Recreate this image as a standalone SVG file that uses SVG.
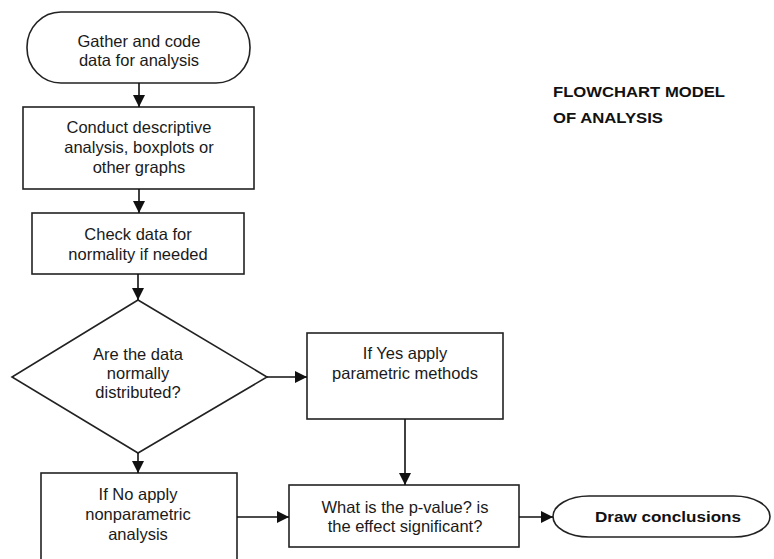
<svg xmlns="http://www.w3.org/2000/svg" width="774" height="559" viewBox="0 0 774 559">
<defs>
<marker id="ah" viewBox="0 0 12 12" markerWidth="12" markerHeight="12" refX="12" refY="6" orient="auto" markerUnits="userSpaceOnUse">
<path d="M0,0 L12,6 L0,12 Z" fill="#111"/>
</marker>
<style>
.shape{fill:#fff;stroke:#222;stroke-width:1.6}
.t{font-family:"Liberation Sans",Arial,sans-serif;font-size:16.5px;fill:#1a1a1a;text-anchor:middle}
.b{font-family:"Liberation Sans",Arial,sans-serif;font-weight:bold;font-size:15px;fill:#111}
.c{fill:none;stroke:#111;stroke-width:1.6;marker-end:url(#ah)}
</style>
</defs>
<rect width="774" height="559" fill="#fff"/>
<g id="title">
<text class="b" x="553" y="97" textLength="172" lengthAdjust="spacingAndGlyphs">FLOWCHART MODEL</text>
<text class="b" x="553" y="123" textLength="110" lengthAdjust="spacingAndGlyphs">OF ANALYSIS</text>
</g>
<g id="gather">
<rect class="shape" x="27" y="12" width="223" height="71" rx="34" ry="35"/>
<text class="t" x="139" y="47">Gather and code</text>
<text class="t" x="139" y="66">data for analysis</text>
</g>
<g id="descriptive">
<rect class="shape" x="23" y="107" width="231" height="82"/>
<text class="t" x="139" y="133">Conduct descriptive</text>
<text class="t" x="139" y="153">analysis, boxplots or</text>
<text class="t" x="139" y="173">other graphs</text>
</g>
<g id="normality">
<rect class="shape" x="32" y="213" width="212" height="61"/>
<text class="t" x="138" y="240">Check data for</text>
<text class="t" x="138" y="260">normality if needed</text>
</g>
<g id="decision">
<polygon class="shape" points="138,300 267,377 138,453 12,377"/>
<text class="t" x="138" y="360">Are the data</text>
<text class="t" x="138" y="379">normally</text>
<text class="t" x="138" y="398">distributed?</text>
</g>
<g id="parametric">
<rect class="shape" x="307" y="333" width="196" height="86"/>
<text class="t" x="405" y="359">If Yes apply</text>
<text class="t" x="405" y="379">parametric methods</text>
</g>
<g id="nonparametric">
<rect class="shape" x="41" y="473" width="196" height="100"/>
<text class="t" x="138" y="500">If No apply</text>
<text class="t" x="138" y="520">nonparametric</text>
<text class="t" x="138" y="540">analysis</text>
</g>
<g id="pvalue">
<rect class="shape" x="289" y="485" width="230" height="62"/>
<text class="t" x="405" y="513">What is the p-value? is</text>
<text class="t" x="405" y="532">the effect significant?</text>
</g>
<g id="conclusions">
<rect class="shape" x="553" y="496" width="217" height="41" rx="36" ry="20.5"/>
<text class="b" x="668" y="522" text-anchor="middle" textLength="146" lengthAdjust="spacingAndGlyphs">Draw conclusions</text>
</g>
<g id="connectors">
<line class="c" x1="139" y1="83" x2="139" y2="107"/>
<line class="c" x1="139" y1="189" x2="139" y2="213"/>
<line class="c" x1="138" y1="274" x2="138" y2="300"/>
<line class="c" x1="138" y1="453" x2="138" y2="473"/>
<line class="c" x1="267" y1="377" x2="307" y2="377"/>
<line class="c" x1="405" y1="419" x2="405" y2="485"/>
<line class="c" x1="237" y1="517" x2="289" y2="517"/>
<line class="c" x1="519" y1="517" x2="553" y2="517"/>
</g>
</svg>
